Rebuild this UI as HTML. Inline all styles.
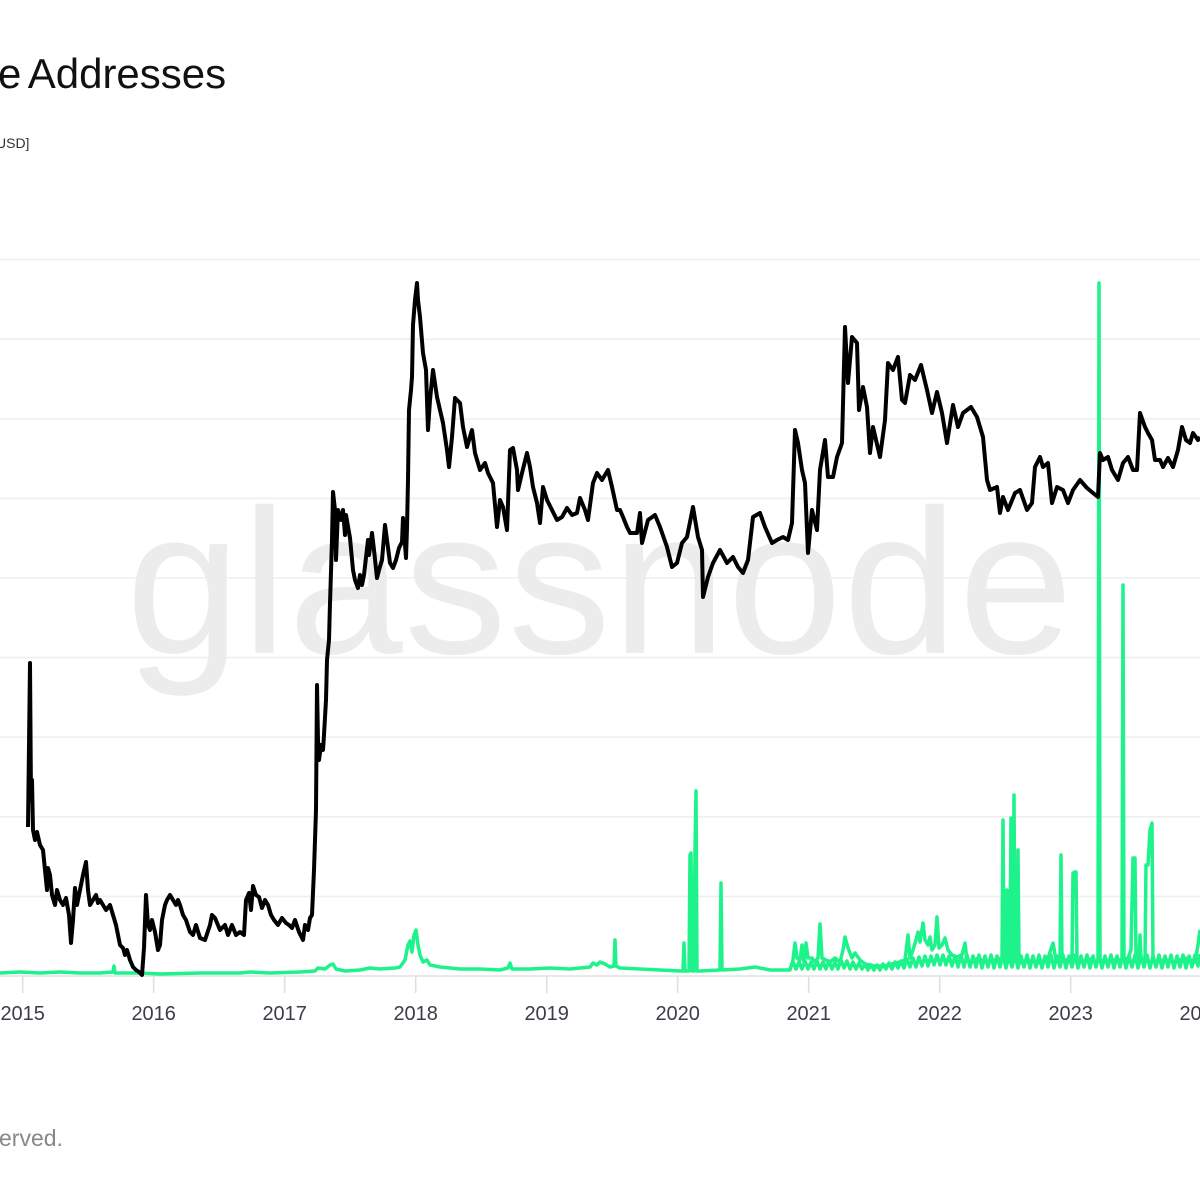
<!DOCTYPE html>
<html><head><meta charset="utf-8"><style>
html,body{margin:0;padding:0;background:#fff;width:1200px;height:1200px;overflow:hidden;position:relative;font-family:"Liberation Sans",sans-serif;}
.t{position:absolute;left:-2px;top:50px;font-size:42px;color:#111;word-spacing:-3px;white-space:nowrap;}
.s{position:absolute;left:-4px;top:135px;font-size:14px;color:#333;white-space:nowrap;}
.f{position:absolute;left:-1px;top:1125px;font-size:23px;color:#888;white-space:nowrap;}
svg{position:absolute;left:0;top:0;}
</style></head><body>
<div class="t">e Addresses</div>
<div class="s">USD]</div>
<svg width="1200" height="1200" viewBox="0 0 1200 1200">
<g stroke="#efefef" stroke-width="1.6">
<line x1="0" y1="259.6" x2="1200" y2="259.6"/>
<line x1="0" y1="339.2" x2="1200" y2="339.2"/>
<line x1="0" y1="418.8" x2="1200" y2="418.8"/>
<line x1="0" y1="498.4" x2="1200" y2="498.4"/>
<line x1="0" y1="578" x2="1200" y2="578"/>
<line x1="0" y1="657.6" x2="1200" y2="657.6"/>
<line x1="0" y1="737.2" x2="1200" y2="737.2"/>
<line x1="0" y1="816.8" x2="1200" y2="816.8"/>
<line x1="0" y1="896.4" x2="1200" y2="896.4"/>
</g>
<line x1="0" y1="976" x2="1200" y2="976" stroke="#e2e2e2" stroke-width="1.6"/>
<g stroke="#e0e0e0" stroke-width="1.6">
<line x1="22.7" y1="976" x2="22.7" y2="993"/>
<line x1="153.7" y1="976" x2="153.7" y2="993"/>
<line x1="284.7" y1="976" x2="284.7" y2="993"/>
<line x1="415.7" y1="976" x2="415.7" y2="993"/>
<line x1="546.7" y1="976" x2="546.7" y2="993"/>
<line x1="677.7" y1="976" x2="677.7" y2="993"/>
<line x1="808.7" y1="976" x2="808.7" y2="993"/>
<line x1="939.7" y1="976" x2="939.7" y2="993"/>
<line x1="1070.7" y1="976" x2="1070.7" y2="993"/>
</g>
<text x="600" y="653" font-family="Liberation Sans, sans-serif" font-size="206" fill="#ececec" text-anchor="middle" letter-spacing="1">glassnode</text>
<g font-family="Liberation Sans, sans-serif" font-size="20" fill="#3d3d4a" text-anchor="middle">
<text x="22.7" y="1020">2015</text>
<text x="153.7" y="1020">2016</text>
<text x="284.7" y="1020">2017</text>
<text x="415.7" y="1020">2018</text>
<text x="546.7" y="1020">2019</text>
<text x="677.7" y="1020">2020</text>
<text x="808.7" y="1020">2021</text>
<text x="939.7" y="1020">2022</text>
<text x="1070.7" y="1020">2023</text>
<text x="1201.7" y="1020">2024</text>
</g>
<g fill="none" stroke="#1ef28b" stroke-width="3.5" stroke-linejoin="round">
<path d="M0,973 L20,972 L40,973 L60,972 L80,973 L100,973 L113,972 L114,966 L115,973 L140,973 L160,974 L200,973 L240,973 L250,972 L270,973 L300,972 L315,971 L318,968 L325,969 L330,965 L333,964 L336,969 L345,971 L360,970 L370,968 L380,969 L395,968 L400,967 L405,960 L408,945 L410,941 L412,952 L414,935 L416,930 L418,945 L420,955 L423,962 L427,960 L430,965 L440,967 L460,969 L480,969 L500,970 L508,968 L510,963 L512,969 L530,969 L550,968 L570,969 L590,967 L593,963 L597,965 L600,962 L605,964 L610,967 L614,966 L615,940 L616,966 L620,968 L640,969 L660,970 L680,971 L683,971 L684,943 L685,971 L689,971 L690,855 L691,853 L692,971 L694,971 L695,850 L696,791 L697,971 L700,971 L720,970 L721,883 L722,970 L740,969 L755,967 L770,970 L790,970 L793,960 L795,943 L797,958 L800,960 L802,945 L804,962 L806,943 L808,958 L812,958 L815,962 L818,958 L820,924 L822,958 L826,960 L830,962 L835,958 L840,962 L843,950 L845,937 L848,948 L852,958 L855,953 L860,960 L865,964 L875,966 L885,966 L895,963 L900,962 L905,960 L908,935 L910,958 L913,950 L916,940 L918,932 L920,942 L923,923 L925,940 L928,945 L930,937 L932,950 L935,945 L937,917 L939,948 L942,945 L945,938 L948,950 L952,955 L957,957 L962,955 L965,943 L967,960 L972,962 L978,958 L985,962 L992,960 L998,960 L1001,958 L1002,960 L1003,820 L1004,960 L1006,958 L1007,890 L1008,960 L1010,958 L1011,818 L1012,960 L1013,958 L1014,795 L1015,960 L1017,958 L1018,850 L1019,960 L1022,963 L1030,961 L1040,963 L1048,958 L1053,943 L1056,960 L1060,960 L1061,855 L1062,960 L1066,960 L1070,962 L1072,960 L1073,873 L1075,872 L1076,872 L1077,960 L1082,962 L1090,959 L1097,962 L1098,960 L1099,283 L1100,960 L1105,962 L1112,960 L1120,960 L1122,960 L1123,585 L1124,960 L1128,958 L1131,950 L1133,858 L1135,858 L1136,960 L1139,958 L1140,935 L1141,960 L1145,960 L1146,865 L1148,865 L1150,830 L1152,823 L1153,960 L1158,962 L1165,960 L1175,962 L1185,958 L1195,962 L1198,945 L1200,930"/>
<path d="M790,969 L793,962 L796,969 L799,962 L802,969 L805,961 L808,969 L811,962 L814,969 L817,961 L820,969 L823,962 L826,969 L829,961 L832,969 L835,962 L838,969 L841,960 L844,968 L847,961 L850,969 L853,962 L856,969 L859,963 L862,969 L865,964 L868,970 L871,965 L874,970 L877,965 L880,970 L883,964 L886,969 L889,963 L892,969 L895,962 L898,968 L901,961 L904,968 L907,959 L910,967 L913,958 L916,967 L919,957 L922,966 L925,956 L928,966 L931,956 L934,965 L937,955 L940,965 L943,955 L946,965 L949,956 L952,966 L955,956 L958,967 L961,955 L964,967 L967,955 L970,967 L973,956 L976,967 L979,955 L982,968 L985,956 L988,967 L991,955 L994,968 L997,956 L1000,967 L1003,955 L1006,968 L1009,956 L1012,967 L1015,955 L1018,968 L1021,956 L1024,967 L1027,955 L1030,968 L1033,956 L1036,967 L1039,955 L1042,968 L1045,956 L1048,967 L1051,955 L1054,968 L1057,956 L1060,967 L1063,955 L1066,968 L1069,956 L1072,967 L1075,955 L1078,968 L1081,956 L1084,967 L1087,955 L1090,968 L1093,956 L1096,967 L1099,955 L1102,968 L1105,956 L1108,967 L1111,955 L1114,968 L1117,956 L1120,967 L1123,955 L1126,968 L1129,956 L1132,967 L1135,955 L1138,968 L1141,956 L1144,967 L1147,955 L1150,968 L1153,956 L1156,967 L1159,955 L1162,968 L1165,956 L1168,967 L1171,955 L1174,968 L1177,956 L1180,967 L1183,955 L1186,968 L1189,956 L1192,967 L1195,955 L1198,966 L1200,954"/>
</g>
<path fill="none" stroke="#000" stroke-width="4" stroke-linejoin="round" d="M28,827 L30,663 L31,800 L32,780 L33,830 L35,840 L37,832 L40,845 L43,850 L45,870 L47,890 L48,868 L50,875 L52,895 L55,905 L57,890 L60,900 L63,905 L66,898 L69,915 L71,943 L73,920 L75,888 L77,905 L80,890 L83,875 L86,862 L88,890 L90,905 L93,900 L96,895 L98,903 L100,900 L103,905 L106,910 L110,905 L113,915 L116,925 L118,935 L120,945 L123,948 L125,955 L127,950 L130,960 L133,967 L136,970 L139,972 L142,975 L144,948 L146,895 L148,925 L150,930 L152,920 L155,932 L158,950 L160,945 L162,920 L165,905 L167,900 L170,895 L173,900 L176,905 L178,900 L180,905 L183,915 L186,920 L190,932 L193,935 L196,925 L200,938 L205,940 L210,925 L212,915 L215,918 L220,930 L225,925 L228,935 L232,925 L236,935 L240,932 L244,935 L246,900 L249,893 L251,910 L253,886 L256,895 L259,897 L262,908 L265,900 L268,905 L271,915 L274,920 L278,925 L282,918 L286,923 L289,925 L292,928 L295,920 L299,932 L303,940 L305,925 L308,930 L310,918 L312,915 L314,870 L316,810 L317,685 L318,740 L319,760 L321,745 L323,750 L324,735 L326,700 L327,660 L329,640 L330,603 L332,540 L333,492 L335,510 L336,560 L338,510 L341,520 L343,510 L345,535 L346,515 L350,538 L353,570 L355,580 L358,588 L360,575 L362,585 L364,575 L368,540 L369,555 L372,533 L374,550 L377,578 L379,570 L382,560 L385,525 L387,540 L390,563 L393,568 L396,560 L399,548 L402,542 L403,518 L406,558 L407,528 L408,480 L409,410 L411,390 L412,377 L413,325 L415,300 L417,283 L418,300 L420,317 L423,353 L426,370 L428,430 L430,400 L433,370 L437,397 L440,410 L443,423 L447,450 L449,467 L452,437 L455,398 L460,403 L463,427 L467,447 L472,430 L475,453 L480,470 L485,463 L488,473 L493,483 L497,527 L500,500 L503,507 L507,530 L510,450 L513,448 L517,470 L518,490 L522,473 L527,453 L530,467 L533,487 L537,503 L540,523 L543,487 L547,500 L552,510 L557,520 L562,517 L567,508 L572,515 L577,513 L580,498 L585,510 L588,520 L593,483 L597,473 L602,480 L608,470 L612,487 L617,510 L620,510 L623,517 L627,527 L630,533 L633,533 L637,533 L640,513 L642,543 L648,520 L655,515 L660,527 L667,547 L672,567 L677,563 L682,543 L687,537 L693,507 L698,537 L702,550 L703,597 L708,577 L713,563 L720,550 L727,563 L733,557 L738,567 L743,573 L748,560 L753,517 L760,513 L765,527 L772,543 L777,540 L783,537 L788,540 L792,523 L795,430 L798,443 L802,470 L805,483 L808,553 L812,510 L817,530 L820,470 L825,440 L828,477 L833,477 L837,457 L842,443 L845,327 L848,383 L852,337 L857,343 L859,410 L863,387 L867,407 L870,453 L873,427 L880,457 L885,420 L888,363 L893,370 L898,357 L902,400 L905,403 L910,375 L915,380 L921,365 L927,390 L932,413 L937,392 L942,413 L947,443 L953,405 L958,427 L963,413 L971,407 L977,417 L983,437 L987,480 L990,490 L997,487 L1000,513 L1003,497 L1008,510 L1015,493 L1020,490 L1027,510 L1032,503 L1035,467 L1040,457 L1043,467 L1048,463 L1052,503 L1057,487 L1063,490 L1068,503 L1073,490 L1080,480 L1087,488 L1093,493 L1098,497 L1100,453 L1103,460 L1108,457 L1112,470 L1118,480 L1123,463 L1128,457 L1133,470 L1137,470 L1140,413 L1145,427 L1148,433 L1152,440 L1155,460 L1160,460 L1163,467 L1168,458 L1173,467 L1178,450 L1182,427 L1186,440 L1190,443 L1193,433 L1198,440 L1200,437"/>
</svg>
<div class="f">erved.</div>
</body></html>
